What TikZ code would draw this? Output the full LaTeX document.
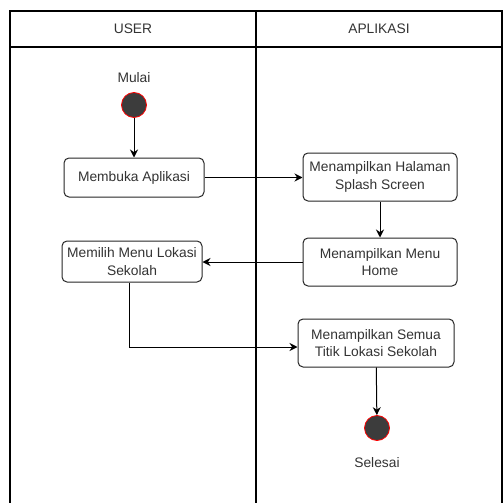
\documentclass[tikz,border=0pt]{standalone}
\usepackage{fontspec}
\setmainfont{Liberation Sans}
\usetikzlibrary{arrows.meta}
\definecolor{txt}{HTML}{333333}
\definecolor{dot}{HTML}{3C3C3C}
\tikzset{
  lane/.style={draw=black, line width=1.3pt},
  act/.style={draw=black!85, line width=1pt, rounded corners=5pt, fill=white, align=center,
    inner sep=0pt, font=\fontsize{13.8pt}{17.5pt}\selectfont, text=txt},
  dotnode/.style={circle, draw=red, fill=dot, line width=0.8pt, minimum size=25pt, inner sep=0pt},
  lbl/.style={font=\fontsize{13.8pt}{17.5pt}\selectfont, text=txt, inner sep=0pt},
  flow/.style={draw=black, line width=1pt, -{Stealth[length=8pt,width=8pt]}},
}
\begin{document}
\begin{tikzpicture}[x=1pt,y=-1pt]
\useasboundingbox (0,0) rectangle (504,503);
% swimlanes
\draw[lane] (10,11) rectangle (502,47);
\draw[lane] (256,11) -- (256,503);
\draw[lane] (10,47) -- (10,503);
\draw[lane] (502,47) -- (502,503);
\node[lbl] (huser) at (133,29) {USER};
\node[lbl] (happ) at (379,29) {APLIKASI};
% nodes
\node[lbl] (mulai) at (134,78) {Mulai};
\node[dotnode] (start) at (134,105) {};
\node[act, minimum width=140pt, minimum height=39pt] (buka) at (134,177.5) {Membuka Aplikasi};
\node[act, minimum width=154pt, minimum height=48pt] (splash) at (380,177) {Menampilkan Halaman\\Splash Screen};
\node[act, minimum width=154pt, minimum height=48pt] (home) at (380,262) {Menampilkan Menu\\Home};
\node[act, minimum width=140pt, minimum height=41pt] (pilih) at (132,261.5) {Memilih Menu Lokasi\\Sekolah};
\node[act, minimum width=156pt, minimum height=48pt] (semua) at (376,343) {Menampilkan Semua\\Titik Lokasi Sekolah};
\node[dotnode] (stop) at (377,428) {};
\node[lbl] (selesai) at (377,463) {Selesai};
% connectors
\draw[flow] (start) -- (buka);
\draw[flow] (buka) -- (splash.west |- buka.east);
\draw[flow] (splash) -- (home);
\draw[flow] (home) -- (pilih.east |- home.west);
\coordinate (semin) at ([yshift=-4pt]semua.west);
\draw[flow] (pilih.south -| 129,0) |- (semin);
\draw[flow] (semua) -- (stop);
\end{tikzpicture}
\end{document}
